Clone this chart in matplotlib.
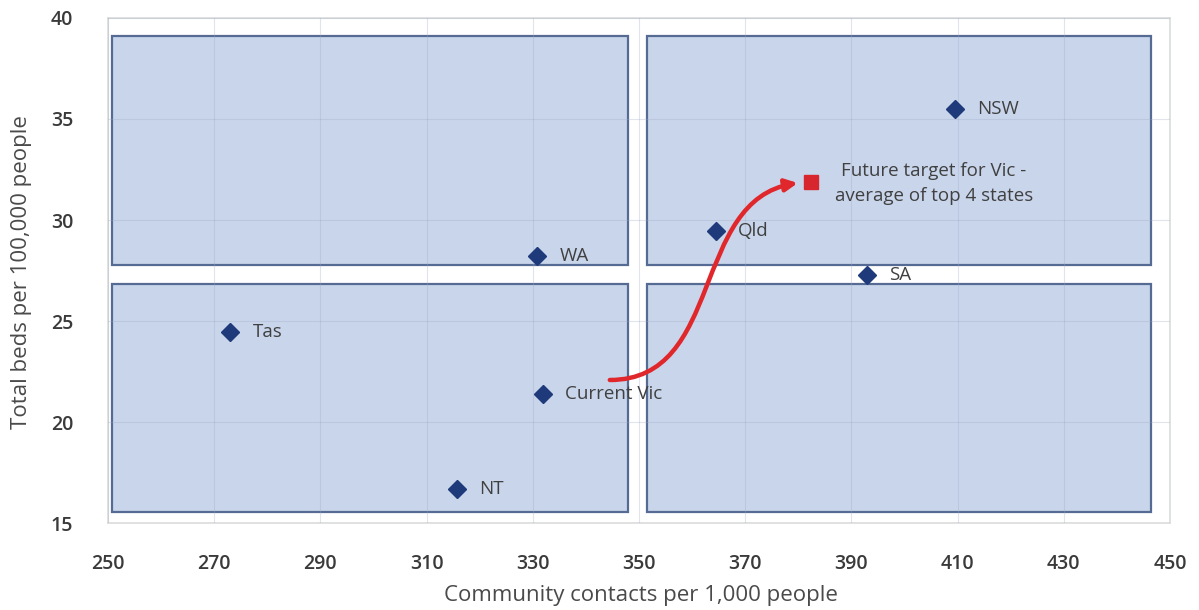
import matplotlib.pyplot as plt
from matplotlib.patches import Rectangle, FancyArrowPatch
from matplotlib.path import Path

# data
states = ["NSW", "Qld", "WA", "SA", "Tas", "Current Vic", "NT"]
contacts = [409.5, 364.5, 330.8, 392.9, 273.0, 331.9, 315.7]
beds = [35.5, 29.45, 28.2, 27.3, 24.45, 21.4, 16.7]

target_label = "Future target for Vic -\naverage of top 4 states"
target_contacts = 382.4
target_beds = 31.9

x_ticks = [250, 270, 290, 310, 330, 350, 370, 390, 410, 430, 450]
y_ticks = [15, 20, 25, 30, 35, 40]

# quadrant boxes: split point, gaps and margins
x_split, y_split = 349.7, 27.3
x_gap, y_gap = 1.8, 0.45
x_lo, x_hi = 250.75, 446.5
y_lo, y_hi = 15.55, 39.1

plt.rcParams["font.family"] = ["Open Sans", "DejaVu Sans"]
text_col = "#404040"

fig = plt.figure(figsize=(11.99, 6.10), dpi=100)
ax = fig.add_axes([0.0901, 0.1426, 0.8857, 0.8279])
ax.set_xlim(250, 450)
ax.set_ylim(15, 40)

fill = "#c8d5eb"
edge = "#566b94"
boxes = [
    (x_lo, y_split + y_gap, x_split - x_gap, y_hi),
    (x_split + x_gap, y_split + y_gap, x_hi, y_hi),
    (x_lo, y_lo, x_split - x_gap, y_split - y_gap),
    (x_split + x_gap, y_lo, x_hi, y_split - y_gap),
]
for x0, y0, x1, y1 in boxes:
    ax.add_patch(Rectangle((x0, y0), x1 - x0, y1 - y0, facecolor=fill,
                           edgecolor=edge, lw=1.6, zorder=1))

ax.set_xticks(x_ticks)
ax.set_yticks(y_ticks)
ax.grid(True, color="#9aa8c4", alpha=0.3, lw=0.8, zorder=1.5)
ax.set_axisbelow(False)
ax.tick_params(length=0, labelsize=14, labelcolor="#3a3a3a")
for lab in ax.get_xticklabels() + ax.get_yticklabels():
    lab.set_fontweight("semibold")
ax.tick_params(axis="x", pad=22)
ax.tick_params(axis="y", pad=25)
for s in ax.spines.values():
    s.set_color("#dcdcdc")
    s.set_linewidth(1.2)

ax.plot(contacts, beds, "D", color="#1f3a7a", ms=9, zorder=4, ls="none")
for name, x, y in zip(states, contacts, beds):
    ax.annotate(name, (x, y), xytext=(16, 0), textcoords="offset points",
                va="center", ha="left", fontsize=13.5, color=text_col, zorder=5)

ax.plot([target_contacts], [target_beds], "s", color="#d8262e", ms=10, zorder=4)
ax.annotate(target_label, (target_contacts, target_beds), xytext=(17, -1.5),
            textcoords="offset points", va="center", ha="left",
            multialignment="center", fontsize=13.5, color=text_col,
            linespacing=1.5, zorder=5)

# curved arrow from current Vic to the target
vic_x, vic_y = contacts[5], beds[5]
sx, sy = vic_x + 12.6, vic_y + 0.68
ex, ey = target_contacts - 2.5, target_beds - 0.07
arc = Path([(sx, sy), (sx + 21.7, sy), (sx + 15.1, ey - 0.84), (ex, ey)],
           [Path.MOVETO, Path.CURVE4, Path.CURVE4, Path.CURVE4])
ax.add_patch(FancyArrowPatch(path=arc, arrowstyle="-|>", mutation_scale=18,
                             lw=3.2, color="#e0282c", zorder=6))

fig.text(641 / 1199, 1 - 595 / 610, "Community contacts per 1,000 people",
         ha="center", va="center", fontsize=16, color="#4a4a4a")
fig.text(22 / 1199, 1 - 272 / 610, "Total beds per 100,000 people",
         ha="center", va="center", rotation=90, fontsize=16, color="#4a4a4a")

fig.savefig("out.png", dpi=100)
